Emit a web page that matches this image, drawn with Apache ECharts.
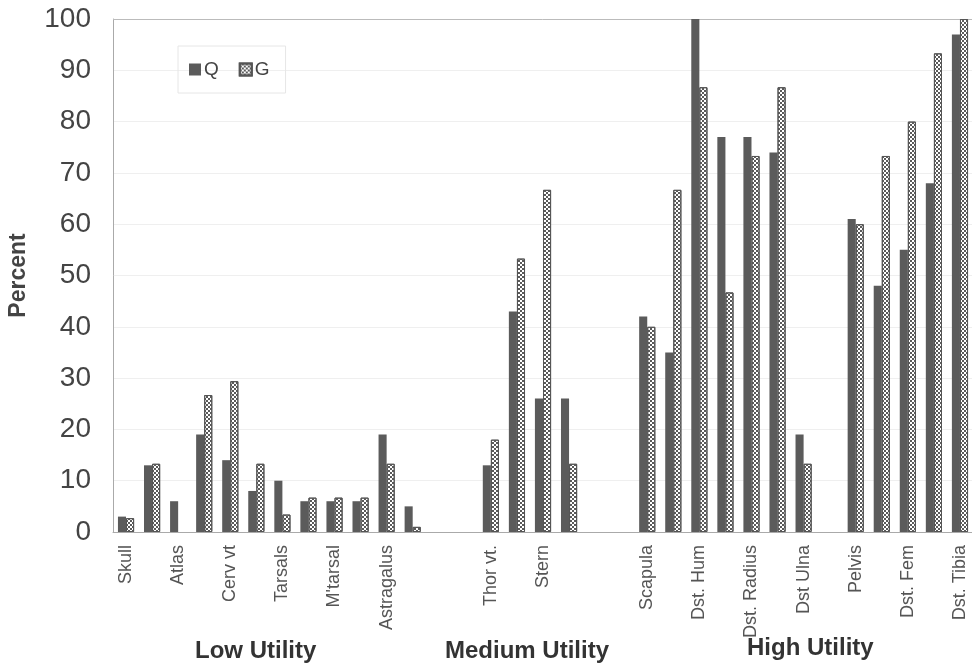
<!DOCTYPE html>
<html><head><meta charset="utf-8">
<script src="https://cdn.jsdelivr.net/npm/echarts@6/dist/echarts.min.js"></script>
<style>html,body{margin:0;padding:0;background:#fff}#c{width:972px;height:667px}</style>
</head><body><div id="c"></div>
<script>
const categories = ['Skull','','Atlas','','Cerv vt','','Tarsals','','M\'tarsal','','Astragalus','',
  '','',
  'Thor vt.','','Stern','',
  '','',
  'Scapula','','Dst. Hum','','Dst. Radius','','Dst Ulna',
  '',
  'Pelvis','','Dst. Fem','','Dst. Tibia'];
const valuesQ = [3,13,6,19,14,8,10,6,6,6,19,5, null,null, 13,43,26,26, null,null, 42,35,100,77,77,74,19, null, 61,48,55,68,97];
const valuesG = [2.7,13.3,null,26.7,29.4,13.3,3.4,6.7,6.7,6.7,13.3,1, null,null, 18,53.3,66.7,13.3, null,null, 40,66.7,86.7,46.7,73.3,86.7,13.3, null, 60,73.3,80,93.3,100];
const yTicks = [0,10,20,30,40,50,60,70,80,90,100];
const groupTitles = ['Low Utility','Medium Utility','High Utility'];

const chart = echarts.init(document.getElementById('c'));
const ff = 'Liberation Sans, Arial, sans-serif';
const titleFont = 'bold 24px "Liberation Sans", Arial, sans-serif';
chart.setOption({
  animation: false,
  backgroundColor: '#fff',
  grid: {left: 113, top: 19, width: 860, bottom: 135, containLabel: false, outerBoundsMode: 'none'},
  legend: {
    left: 178, top: 46, padding: [14, 16, 14, 11], itemGap: 20,
    borderColor: '#e6e6e6', borderWidth: 1,
    itemWidth: 12, itemHeight: 12, icon: 'rect',
    textStyle: {fontFamily: ff, fontSize: 19, color: '#444', padding: [0,0,0,-2]},
    data: ['Q','G']
  },
  xAxis: {
    type: 'category', data: categories,
    axisLine: {lineStyle: {color: '#aaa'}},
    axisTick: {show: false},
    axisLabel: {interval: 0, rotate: 90, fontFamily: ff, fontSize: 18, color: '#555', margin: 13},
    splitLine: {show: false}
  },
  yAxis: {
    type: 'value', min: 0, max: 100, interval: 10,
    name: 'Percent', nameLocation: 'middle', nameGap: 83, nameRotate: 90,
    nameTextStyle: {fontFamily: ff, fontSize: 23, fontWeight: 'bold', color: '#444'},
    axisLine: {show: true, lineStyle: {color: '#aaa'}},
    axisTick: {show: false},
    axisLabel: {fontFamily: ff, fontSize: 28, color: '#444', margin: 22,
      formatter: v => yTicks.includes(v) ? String(v) : ''},
    splitLine: {show: true, lineStyle: {color: '#efefef'}}
  },
  graphic: [
    {type: 'line', shape: {x1: 113, y1: 19.5, x2: 972, y2: 19.5}, style: {stroke: '#bbb', lineWidth: 1}, z: 1},
    {type: 'text', left: 195, top: 639, style: {text: groupTitles[0], font: titleFont, fill: '#333'}},
    {type: 'text', left: 445, top: 639, style: {text: groupTitles[1], font: titleFont, fill: '#333'}},
    {type: 'text', left: 747, top: 636, style: {text: groupTitles[2], font: titleFont, fill: '#333'}}
  ],
  series: [
    {name: 'Q', type: 'bar', data: valuesQ, barGap: '0%', barCategoryGap: '38%',
      itemStyle: {color: '#5b5b5b'}},
    {name: 'G', type: 'bar', data: valuesG,
      itemStyle: {color: '#ffffff', borderColor: '#555', borderWidth: 1,
        decal: {symbol: 'rect', symbolSize: 1, color: '#5a5a5a',
          dashArrayX: [[2, 2], [0, 2, 2, 0]], dashArrayY: [2, 0], rotation: 0}}}
  ]
});
</script></body></html>
